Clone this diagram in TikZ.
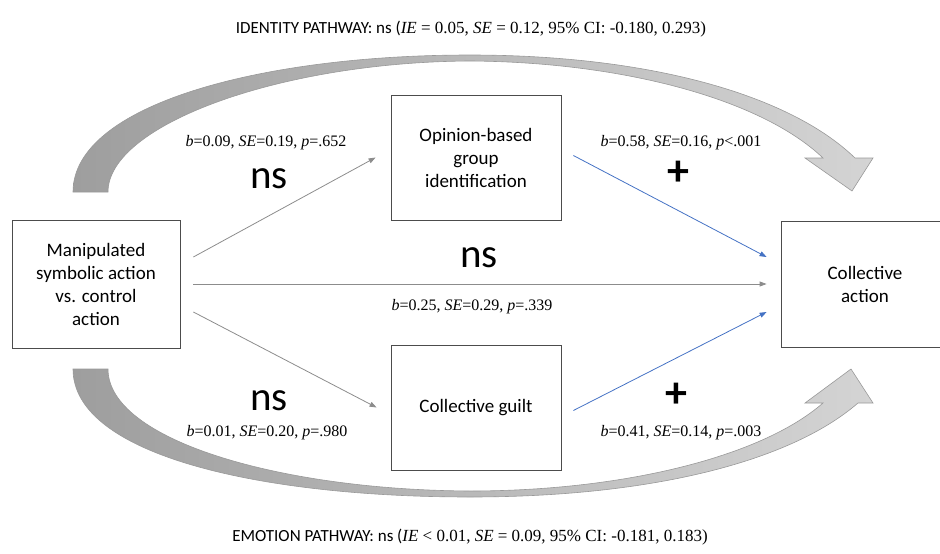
\documentclass[tikz,border=0pt]{standalone}
\usepackage{fontspec}
\setmainfont{Liberation Serif}
\setsansfont{Carlito}
\usepackage{xcolor}
\definecolor{pathblue}{RGB}{68,114,196}
\definecolor{arcdark}{RGB}{158,158,158}
\definecolor{arclight}{RGB}{212,212,212}
\usetikzlibrary{positioning,arrows.meta}
\newcommand{\stat}[3]{\textit{b}=#1, \textit{SE}=#2, \textit{p}#3}

\begin{document}
\begin{tikzpicture}[x=1pt, y=-1pt, >=Stealth,
  box/.style={draw=black!70, line width=0.8pt, align=center, inner sep=0pt,
    font=\sffamily\fontsize{19}{23}\selectfont},
  lbl/.style={anchor=base, inner sep=0pt, font=\fontsize{16}{18}\selectfont},
  sig/.style={anchor=base, inner sep=0pt, font=\sffamily\fontsize{41}{44}\selectfont},
  plus/.style={inner sep=0pt, font=\sffamily\bfseries\fontsize{44}{44}\selectfont},
  ttl/.style={anchor=base, inner sep=0pt, font=\fontsize{17}{20}\selectfont},
  garrow/.style={draw=black!45, line width=0.8pt, -{Triangle[length=7pt,width=5pt]}},
  barrow/.style={draw=pathblue, line width=0.8pt, -{Triangle[length=7pt,width=5pt]}},
  band/.style={left color=arcdark, right color=arclight, draw=black!40, line width=0.6pt}]
\useasboundingbox (0,0) rectangle (940,554);
\shadedraw[band] (73,192) .. controls (73,105) and (260,55) .. (470,55)
  .. controls (650,55) and (790,95) .. (855,158) -- (873,158) -- (852,191) -- (805,158) -- (823,158)
  .. controls (760,98) and (620,62) .. (470,61)
  .. controls (280,62) and (108,125) .. (108,192) -- cycle;
\shadedraw[band] (73,369) .. controls (73,455) and (260,497) .. (470,497)
  .. controls (650,497) and (790,462) .. (858,403) -- (873,403) -- (851,369) -- (805,403) -- (823,403)
  .. controls (760,458) and (620,491) .. (470,491)
  .. controls (280,490) and (108,440) .. (108,369) -- cycle;
\node[box, minimum width=168, minimum height=128] (sym) at (96,284)
  {Manipulated\\ symbolic action\\ vs. control\\ action};
\node[box, minimum width=170, minimum height=125] (opin) at (476,157.5)
  {Opinion-based\\ group\\ identification};
\node[box, minimum width=170, minimum height=125] (guilt) at (476,407.5)
  {Collective guilt};
\node[box, minimum width=168, minimum height=126] (coll) at (865,284)
  {Collective\\ action};
\draw[garrow] ([xshift=13pt,yshift=27pt]sym.east) -- ([xshift=-15pt]opin.west);
\draw[garrow] ([xshift=13pt]sym.east) -- ([xshift=-14pt]coll.west);
\draw[garrow] ([xshift=13pt,yshift=-28pt]sym.east) -- ([xshift=-14pt]guilt.west);
\draw[barrow] ([xshift=12pt,yshift=2pt]opin.east) -- ([xshift=-14pt,yshift=27pt]coll.west);
\draw[barrow] ([xshift=12pt,yshift=-3pt]guilt.east) -- ([xshift=-14pt,yshift=-28pt]coll.west);
\node[lbl] (l1) at (266,146) {\stat{0.09}{0.19}{=.652}};
\node[sig] (s1) at (269,188) {ns};
\node[lbl] (l2) at (681,146) {\stat{0.58}{0.16}{<.001}};
\node[plus] (p2) at (678,173) {+};
\node[sig] (s3) at (479,267) {ns};
\node[lbl] (l3) at (472,310) {\stat{0.25}{0.29}{=.339}};
\node[sig] (s4) at (269,410) {ns};
\node[lbl] (l4) at (267,436) {\stat{0.01}{0.20}{=.980}};
\node[plus] (p5) at (676,395) {+};
\node[lbl] (l5) at (681,436) {\stat{0.41}{0.14}{=.003}};
\node[ttl] (top) at (471,34)
  {{\sffamily IDENTITY PATHWAY: ns (}\textit{IE} = 0.05, \textit{SE} = 0.12, 95\% CI: -0.180, 0.293)};
\node[ttl] (bot) at (470,541)
  {{\sffamily EMOTION PATHWAY: ns (}\textit{IE} < 0.01, \textit{SE} = 0.09, 95\% CI: -0.181, 0.183)};
\end{tikzpicture}
\end{document}
